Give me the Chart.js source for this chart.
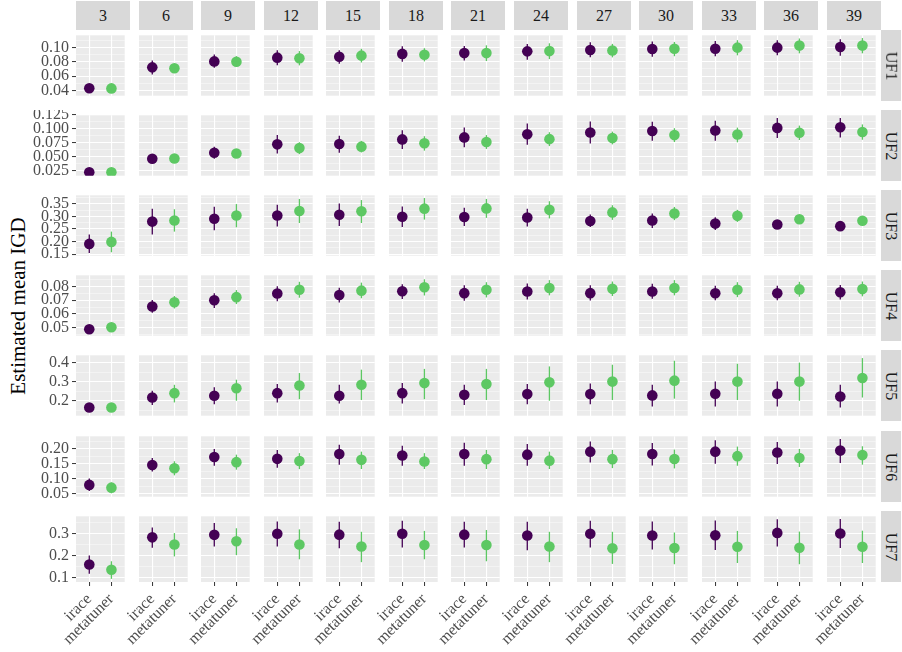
<!DOCTYPE html>
<html>
<head>
<meta charset="utf-8">
<script src="https://cdn.jsdelivr.net/npm/chart.js@4.4.0/dist/chart.umd.min.js"></script>
<style>
  body { margin: 0; background: #fff; }
  #fig { position: relative; width: 902px; height: 652px; font-family: "Liberation Serif", serif; overflow: hidden; }
  #fig canvas { position: absolute; }
  .strip { position: absolute; background: #d9d9d9; color: #1a1a1a; font-size: 16px; display: flex; align-items: center; justify-content: center; }
  .strip.right span { transform: rotate(90deg); white-space: nowrap; }
  #ytitle { position: absolute; left: 18px; top: 306px; transform: translate(-50%, -50%) rotate(-90deg); white-space: nowrap; font-size: 21px; color: #000; }
</style>
</head>
<body>
<div id="fig"><div id="ytitle">Estimated mean IGD</div></div>
<script>
// facetten: kolommen = aantal, rijen = probleem
const columns = ['3', '6', '9', '12', '15', '18', '21', '24', '27', '30', '33', '36', '39'];
const problems = ['UF1', 'UF2', 'UF3', 'UF4', 'UF5', 'UF6', 'UF7'];
const methods = ['irace', 'metatuner'];

const yTickLabels = [
  ['0.04', '0.06', '0.08', '0.10'],
  ['0.025', '0.050', '0.075', '0.100', '0.125'],
  ['0.15', '0.20', '0.25', '0.30', '0.35'],
  ['0.05', '0.06', '0.07', '0.08'],
  ['0.2', '0.3', '0.4'],
  ['0.05', '0.10', '0.15', '0.20'],
  ['0.1', '0.2', '0.3']
];
const yLimits = [
  [0.0329, 0.1167], [0.0158, 0.1243], [0.1443, 0.3837], [0.0443, 0.0880],
  [0.1200, 0.4387], [0.0396, 0.2413], [0.0817, 0.3804]
];

// irace: gemiddelde, onder- en bovengrens
const iraceMean = [
  [0.0432, 0.0722, 0.0805, 0.0857, 0.0869, 0.0909, 0.0920, 0.0944, 0.0964, 0.0976, 0.0980, 0.0996, 0.1004],
  [0.0219, 0.0462, 0.0571, 0.0721, 0.0727, 0.0810, 0.0846, 0.0903, 0.0934, 0.0960, 0.0970, 0.1017, 0.1027],
  [0.1910, 0.2795, 0.2909, 0.3034, 0.3068, 0.2989, 0.2977, 0.2955, 0.2818, 0.2841, 0.2716, 0.2682, 0.2614],
  [0.0490, 0.0654, 0.0699, 0.0748, 0.0738, 0.0765, 0.0751, 0.0763, 0.0751, 0.0763, 0.0750, 0.0750, 0.0757],
  [0.163, 0.216, 0.225, 0.239, 0.225, 0.239, 0.230, 0.234, 0.234, 0.227, 0.236, 0.236, 0.221],
  [0.079, 0.1457, 0.172, 0.166, 0.182, 0.177, 0.182, 0.180, 0.190, 0.182, 0.190, 0.187, 0.1935],
  [0.161, 0.2846, 0.296, 0.301, 0.297, 0.301, 0.297, 0.293, 0.301, 0.293, 0.294, 0.305, 0.3025]
];
const iraceLo = [
  [0.0370, 0.0623, 0.0718, 0.0750, 0.0773, 0.0800, 0.0817, 0.0829, 0.0861, 0.0869, 0.0877, 0.0889, 0.0885],
  [0.0207, 0.0420, 0.0462, 0.0556, 0.0571, 0.0639, 0.0670, 0.0716, 0.0737, 0.0784, 0.0784, 0.0836, 0.0846],
  [0.1552, 0.2284, 0.2455, 0.2602, 0.2625, 0.2580, 0.2625, 0.2602, 0.2580, 0.2545, 0.2466, 0.2580, 0.2510],
  [0.0463, 0.0609, 0.0644, 0.0693, 0.0683, 0.0709, 0.0695, 0.0705, 0.0697, 0.0710, 0.0700, 0.0700, 0.0705],
  [0.140, 0.176, 0.181, 0.190, 0.185, 0.185, 0.176, 0.181, 0.180, 0.169, 0.168, 0.168, 0.163],
  [0.0586, 0.124, 0.143, 0.1365, 0.146, 0.143, 0.143, 0.143, 0.154, 0.144, 0.150, 0.149, 0.152],
  [0.119, 0.2375, 0.243, 0.243, 0.235, 0.239, 0.239, 0.226, 0.239, 0.229, 0.2275, 0.243, 0.236]
];
const iraceHi = [
  [0.0490, 0.0817, 0.0900, 0.0960, 0.0960, 0.1016, 0.1020, 0.1048, 0.1072, 0.1080, 0.1087, 0.1099, 0.1111],
  [0.0235, 0.0500, 0.0680, 0.0887, 0.0877, 0.0975, 0.1022, 0.1095, 0.1131, 0.1126, 0.1146, 0.1194, 0.1194],
  [0.2284, 0.3307, 0.3386, 0.3466, 0.3511, 0.3398, 0.3341, 0.3307, 0.3080, 0.3114, 0.2966, 0.2790, 0.2720],
  [0.0510, 0.0701, 0.0751, 0.0800, 0.0790, 0.0816, 0.0808, 0.0820, 0.0808, 0.0818, 0.0805, 0.0805, 0.0810],
  [0.185, 0.252, 0.270, 0.287, 0.283, 0.292, 0.283, 0.287, 0.290, 0.283, 0.300, 0.300, 0.283],
  [0.100, 0.169, 0.199, 0.1955, 0.213, 0.210, 0.220, 0.216, 0.224, 0.219, 0.228, 0.2225, 0.232],
  [0.2025, 0.329, 0.350, 0.357, 0.356, 0.360, 0.356, 0.356, 0.360, 0.357, 0.361, 0.367, 0.368]
];

// metatuner: gemiddelde, onder- en bovengrens
const metaMean = [
  [0.0430, 0.0710, 0.0800, 0.0849, 0.0885, 0.0897, 0.0920, 0.0948, 0.0956, 0.0980, 0.0996, 0.1024, 0.1024],
  [0.0219, 0.0468, 0.0556, 0.0654, 0.0680, 0.0742, 0.0763, 0.0815, 0.0836, 0.0887, 0.0898, 0.0929, 0.0944],
  [0.1989, 0.2841, 0.3034, 0.3216, 0.3205, 0.3307, 0.3318, 0.3261, 0.3159, 0.3114, 0.3023, 0.2886, 0.2830],
  [0.0504, 0.0685, 0.0722, 0.0775, 0.0769, 0.0794, 0.0775, 0.0788, 0.0782, 0.0788, 0.0775, 0.0778, 0.0780],
  [0.163, 0.239, 0.265, 0.279, 0.283, 0.292, 0.287, 0.296, 0.300, 0.305, 0.300, 0.300, 0.319],
  [0.0698, 0.1345, 0.155, 0.159, 0.1626, 0.157, 0.165, 0.160, 0.165, 0.1654, 0.175, 0.169, 0.1786],
  [0.1375, 0.2525, 0.2667, 0.2525, 0.243, 0.250, 0.250, 0.243, 0.235, 0.236, 0.2417, 0.2375, 0.2417]
];
const metaLo = [
  [0.0380, 0.0675, 0.0730, 0.0750, 0.0790, 0.0805, 0.0810, 0.0837, 0.0861, 0.0877, 0.0889, 0.0917, 0.0917],
  [0.0207, 0.0430, 0.0520, 0.0545, 0.0576, 0.0608, 0.0639, 0.0690, 0.0721, 0.0763, 0.0758, 0.0799, 0.0804],
  [0.1580, 0.2398, 0.2568, 0.2739, 0.2739, 0.2875, 0.2943, 0.2920, 0.2864, 0.2852, 0.2784, 0.2780, 0.2740],
  [0.0485, 0.0640, 0.0672, 0.0718, 0.0714, 0.0734, 0.0720, 0.0735, 0.0730, 0.0735, 0.0722, 0.0725, 0.0728],
  [0.145, 0.190, 0.199, 0.207, 0.203, 0.207, 0.203, 0.199, 0.203, 0.210, 0.203, 0.199, 0.216],
  [0.051, 0.111, 0.130, 0.1317, 0.132, 0.132, 0.132, 0.132, 0.135, 0.134, 0.143, 0.139, 0.1466],
  [0.096, 0.198, 0.204, 0.185, 0.172, 0.185, 0.176, 0.172, 0.164, 0.1625, 0.168, 0.1625, 0.168]
];
const metaHi = [
  [0.0480, 0.0745, 0.0877, 0.0948, 0.0980, 0.0988, 0.1028, 0.1056, 0.1048, 0.1075, 0.1099, 0.1123, 0.1129],
  [0.0235, 0.0505, 0.0590, 0.0758, 0.0784, 0.0867, 0.0887, 0.0939, 0.0950, 0.1011, 0.1022, 0.1058, 0.1079],
  [0.2398, 0.3284, 0.3489, 0.3693, 0.3648, 0.3728, 0.3693, 0.3602, 0.3443, 0.3375, 0.3261, 0.2990, 0.2920],
  [0.0522, 0.0730, 0.0773, 0.0833, 0.0827, 0.0851, 0.0830, 0.0845, 0.0835, 0.0845, 0.0830, 0.0833, 0.0835],
  [0.182, 0.283, 0.310, 0.345, 0.363, 0.367, 0.367, 0.380, 0.389, 0.410, 0.394, 0.400, 0.424],
  [0.0867, 0.158, 0.180, 0.185, 0.190, 0.185, 0.196, 0.190, 0.196, 0.197, 0.207, 0.199, 0.208],
  [0.176, 0.304, 0.326, 0.321, 0.310, 0.314, 0.318, 0.310, 0.310, 0.3067, 0.314, 0.311, 0.315]
];

const colors = ['#440154', '#5dc863'];
const fontFamily = '"Liberation Serif", serif';
const fig = document.getElementById('fig');

// grijze achtergrond van het paneel + foutbalken onder de punten
const panelPlugin = {
  id: 'panel',
  beforeDraw(chart) {
    let a = chart.chartArea;
    let ctx = chart.ctx;
    ctx.save();
    ctx.fillStyle = '#ebebeb';
    ctx.fillRect(a.left, a.top, a.right - a.left, a.bottom - a.top);
    ctx.restore();
  },
  beforeDatasetsDraw(chart) {
    let ctx = chart.ctx;
    let xs = chart.scales.x;
    let ys = chart.scales.y;
    chart.data.datasets.forEach(ds => {
      let px = xs.getPixelForValue(ds.data[0].x);
      ctx.save();
      ctx.strokeStyle = ds.backgroundColor;
      ctx.lineWidth = 1.3;
      ctx.beginPath();
      ctx.moveTo(px, ys.getPixelForValue(ds.lo));
      ctx.lineTo(px, ys.getPixelForValue(ds.hi));
      ctx.stroke();
      ctx.restore();
    });
  }
};

function makeStrip(cls, left, top, width, height, text) {
  let div = document.createElement('div');
  div.className = 'strip ' + cls;
  div.style.left = left + 'px';
  div.style.top = top + 'px';
  div.style.width = width + 'px';
  div.style.height = height + 'px';
  let span = document.createElement('span');
  span.textContent = text;
  div.appendChild(span);
  fig.appendChild(div);
}

const panelW = 54;
const panelH = 71;

problems.forEach((prob, r) => {
  let majors = yTickLabels[r].map(parseFloat);
  let step = majors[1] - majors[0];
  let lim = yLimits[r];
  let minors = [];
  for (let k = -1; k < majors.length; k++) {
    let v = majors[0] + (k + 0.5) * step;
    if (v > lim[0] && v < lim[1]) minors.push(v);
  }
  let tickVals = majors.concat(minors).sort((a, b) => a - b);
  let isMajor = v => majors.some(m => Math.abs(m - v) < step * 0.01);
  let labelFor = v => {
    let i = majors.findIndex(m => Math.abs(m - v) < step * 0.01);
    return i >= 0 ? yTickLabels[r][i] : '';
  };
  let panelY = Math.round(29.5 + r * 80.2);

  columns.forEach((col, c) => {
    let panelX = Math.round(76 + c * 62.58);
    let bottom = r === problems.length - 1;
    let leftExtra = c === 0 ? 46 : 24;
    let bottomExtra = bottom ? 70 : 0;

    let canvas = document.createElement('canvas');
    canvas.width = leftExtra + panelW;
    canvas.height = panelH + bottomExtra;
    canvas.style.left = (panelX - leftExtra) + 'px';
    canvas.style.top = panelY + 'px';
    fig.appendChild(canvas);

    new Chart(canvas, {
      type: 'scatter',
      data: {
        datasets: [
          { label: methods[0], data: [{ x: 1, y: iraceMean[r][c] }], lo: iraceLo[r][c], hi: iraceHi[r][c],
            backgroundColor: colors[0], pointRadius: 5.3, pointBorderWidth: 0 },
          { label: methods[1], data: [{ x: 2, y: metaMean[r][c] }], lo: metaLo[r][c], hi: metaHi[r][c],
            backgroundColor: colors[1], pointRadius: 5.3, pointBorderWidth: 0 }
        ]
      },
      options: {
        responsive: false,
        animation: false,
        events: [],
        layout: { padding: 0 },
        plugins: { legend: { display: false }, tooltip: { enabled: false } },
        scales: {
          x: {
            type: 'linear', min: 0.4, max: 2.6,
            afterBuildTicks: s => { s.ticks = [{ value: 1 }, { value: 2 }]; },
            afterFit: s => { s.paddingLeft = 0; s.paddingRight = 0; s.height = bottom ? bottomExtra : 0; },
            border: { display: false },
            grid: { color: '#ffffff', lineWidth: 1.1, drawTicks: bottom, tickLength: 4, tickColor: '#333333', tickWidth: 1 },
            ticks: {
              display: bottom, autoSkip: false, minRotation: 45, maxRotation: 45, padding: 4,
              color: '#4d4d4d', font: { family: fontFamily, size: 16 },
              callback: v => methods[v - 1]
            }
          },
          y: {
            type: 'linear', min: lim[0], max: lim[1],
            afterBuildTicks: s => { s.ticks = tickVals.map(v => ({ value: v })); },
            afterFit: s => { s.width = leftExtra; s.paddingTop = 0; s.paddingBottom = 0; },
            border: { display: false },
            grid: {
              color: ctx => (ctx.tick && !isMajor(ctx.tick.value)) ? 'rgba(255,255,255,0.75)' : '#ffffff',
              lineWidth: ctx => (ctx.tick && !isMajor(ctx.tick.value)) ? 0.55 : 1.1,
              drawTicks: c === 0, tickLength: 4, tickWidth: 1,
              tickColor: ctx => (ctx.tick && isMajor(ctx.tick.value)) ? '#333333' : 'rgba(0,0,0,0)'
            },
            ticks: {
              display: c === 0, autoSkip: false, padding: 3, color: '#4d4d4d', font: { family: fontFamily, size: 16 },
              callback: v => labelFor(v)
            }
          }
        }
      },
      plugins: [panelPlugin]
    });

    if (r === 0) makeStrip('top', panelX, 1, panelW, 29, col);
  });

  makeStrip('right', Math.round(76 + 12 * 62.58) + panelW, panelY, 20, panelH, prob);
});
</script>
</body>
</html>
